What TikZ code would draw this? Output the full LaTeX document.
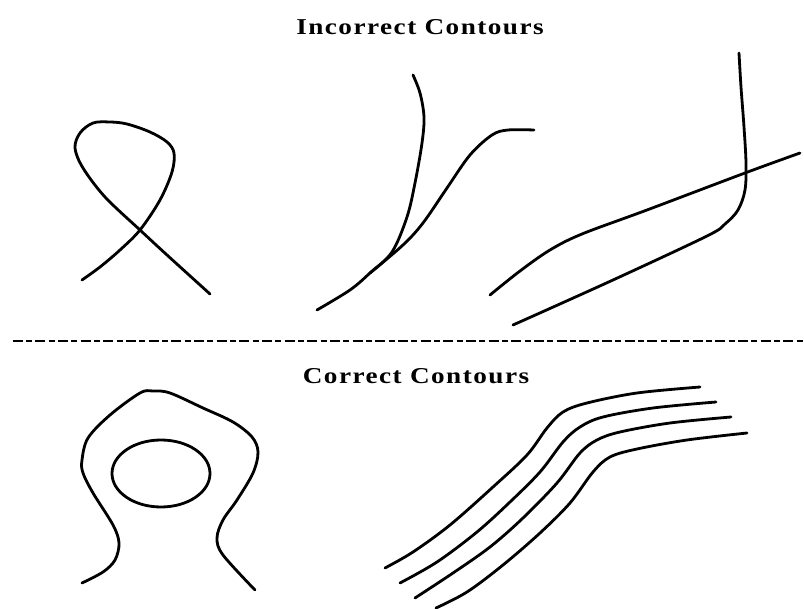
\documentclass[tikz,border=0pt]{standalone}
\usepackage{fontspec}
\setmainfont{Liberation Serif}
\newfontfamily\ttlfont[LetterSpace=6.5,FakeStretch=1.2]{Liberation Serif}
\tikzset{contour/.style={line width=2.1pt,line cap=round,line join=round,smooth,tension=0.55},
ttl/.style={font=\ttlfont\bfseries\fontsize{17}{19}\selectfont,inner sep=0pt}}
\begin{document}
\begin{tikzpicture}[x=0.75pt,y=-0.75pt]
\useasboundingbox (0,0) rectangle (804,609);
\fill[white] (0,0) rectangle (804,609);
\node[ttl] (t1) at (420,27) {Incorrect Contours};
\node[ttl] (t2) at (416,376) {Correct Contours};
\draw[line width=1.2pt,dash pattern=on 7.5pt off 2.5pt on 4.5pt off 2.5pt] (12.7,341) -- (803,341);
% loop
\draw[contour] plot coordinates {(210,294) (167,255) (140,230) (105,197) (83,168) (75,148) (80,133) (93,123) (110,122) (127,124) (150,132) (167,142) (174,153) (172,172) (160,200) (140,230) (120,250) (100,267) (82,280)};
% middle
\draw[contour] plot coordinates {(413,75) (420,93) (424,117) (422,143) (415,183) (407,217) (392,252) (370,273) (350,290) (317,310)};
\draw[contour] plot coordinates {(534,130) (508,130) (492,135) (470,155) (447,188) (423,223) (403,245) (370,273)};
% right
\draw[contour] plot coordinates {(739,53) (741,87) (744,127) (746,163) (745,190) (738,210) (725,224) (707,236) (613,280) (513,325)};
\draw[contour] plot coordinates {(800,153) (745,173) (647,210) (582,234) (550,250) (520,271) (490,295)};
% bottom left
\draw[contour] plot coordinates {(82,583) (103,572) (115,560) (119,543) (113,525) (93,493) (83,473) (82,460) (88,438) (110,415) (140,393) (153,391) (170,393) (203,408) (233,422) (252,437) (258,452) (253,473) (237,500) (223,520) (217,538) (223,555) (255,590)};
\draw[line width=2.1pt] (161,473.5) ellipse [x radius=49,y radius=33.5];
% bundle
\draw[contour] plot coordinates {(385,568) (413,552) (450,525) (493,487) (527,455) (547,428) (563,412) (587,403) (637,393) (700,387)};
\draw[contour] plot coordinates {(400,583) (437,562) (477,532) (510,502) (540,472) (563,442) (580,427) (603,417) (653,408) (716,402)};
\draw[contour] plot coordinates {(415,598) (453,573) (490,547) (523,518) (557,483) (580,453) (597,440) (620,432) (670,423) (731,417)};
\draw[contour] plot coordinates {(436,608) (467,592) (503,565) (540,533) (570,503) (593,472) (610,457) (637,449) (687,440) (747,433)};
\end{tikzpicture}
\end{document}
